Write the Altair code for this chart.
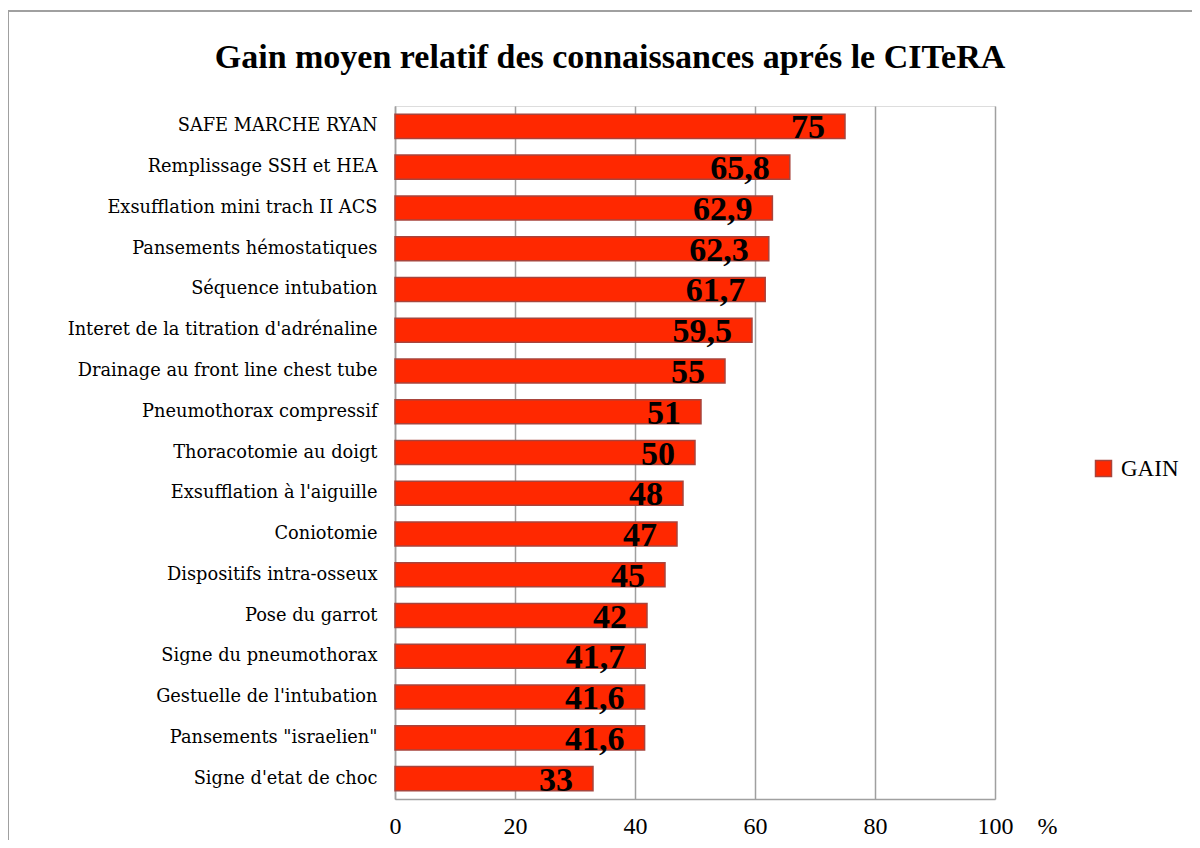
import altair as alt
import pandas as pd

categories = [
    "SAFE MARCHE RYAN",
    "Remplissage SSH et HEA ",
    "Exsufflation mini trach II ACS",
    "Pansements hémostatiques",
    "Séquence intubation ",
    "Interet de la titration d'adrénaline ",
    "Drainage au front line chest tube ",
    "Pneumothorax compressif",
    "Thoracotomie au doigt",
    "Exsufflation à l'aiguille",
    "Coniotomie",
    "Dispositifs intra-osseux",
    "Pose du garrot",
    "Signe du pneumothorax",
    "Gestuelle de l'intubation",
    "Pansements \"israelien\"",
    "Signe d'etat de choc",
]
gain = [75, 65.8, 62.9, 62.3, 61.7, 59.5, 55, 51, 50, 48, 47, 45, 42, 41.7, 41.6, 41.6, 33]
series = "GAIN"
x_ticks = [0, 20, 40, 60, 80, 100]

df = pd.DataFrame({
    "cat": categories,
    "gain": gain,
    "label": [("%g" % v).replace(".", ",") for v in gain],
    "series": [series] * len(categories),
    "idx": list(range(len(categories))),
})

SERIF = "Liberation Serif"
CATFONT = "DejaVu Serif"
W, H = 600, 693
PL, PT = 387, 98

y_enc = alt.Y("idx:O", sort=None,
              scale=alt.Scale(paddingInner=0.41),
              axis=alt.Axis(title=None, ticks=False, labelPadding=18, labelLimit=0,
                            labelFont=CATFONT, labelFontSize=17.8, labelColor="#000",
                            labelExpr="%s[datum.value]" % str(categories),
                            domainColor="#A0A0A0", domainWidth=1.5))

bars = alt.Chart(df).mark_bar(stroke="#A8443C", strokeWidth=1.5).encode(
    x=alt.X("gain:Q", scale=alt.Scale(domain=[0, 100], nice=False),
            axis=alt.Axis(values=x_ticks, title="%", ticks=False, labelFlush=False,
                          labelFont=SERIF, labelFontSize=24, labelColor="#000",
                          labelPadding=27, labelBaseline="middle",
                          grid=True, gridColor="#A0A0A0", gridWidth=1.5,
                          domainColor="#A0A0A0", domainWidth=1.5,
                          titleFont=SERIF, titleFontSize=24, titleFontWeight="normal",
                          titleColor="#000", titleX=652, titleY=27,
                          titleBaseline="middle", titleAlign="center", titleAngle=0)),
    y=y_enc,
    color=alt.Color("series:N", scale=alt.Scale(range=["#FF2800"]),
                    legend=alt.Legend(title=None, orient="none", legendX=697, legendY=351,
                                      symbolType="square", symbolSize=256,
                                      symbolStrokeColor="#A8443C", symbolStrokeWidth=1.5,
                                      symbolOpacity=1,
                                      labelFont=SERIF, labelFontSize=23, labelColor="#000",
                                      labelOffset=6, padding=0)),
)

labels = alt.Chart(df).mark_text(
    align="right", baseline="alphabetic", dx=-20, dy=12,
    font=SERIF, fontSize=34, fontWeight="bold", color="#000"
).encode(
    x=alt.X("gain:Q"),
    y=alt.Y("idx:O", sort=None),
    text="label:N",
)

frame = alt.Chart(pd.DataFrame({"k": [0]})).mark_rect(
    fill=None, stroke="#A0A0A0", strokeWidth=2
).encode(
    x=alt.value(8 - 8 - PL),
    x2=alt.value(1400),
    y=alt.value(11 - 8 - PT),
    y2=alt.value(1000),
)

chart = alt.layer(frame, bars, labels).properties(
    width=W, height=H,
    title=alt.Title("Gain moyen relatif des connaissances aprés le CITeRA",
                    font=SERIF, fontSize=34, fontWeight="bold", color="#000",
                    anchor="middle", frame="group", dx=-85,
                    baseline="alphabetic", offset=-92),
    autosize=alt.AutoSizeParams(type="none"),
    padding={"left": PL, "top": PT, "right": 1200 - 16 - PL - W, "bottom": 848 - 16 - PT - H},
).configure_view(
    fill="#F4ECEA", stroke=None
).configure_legend(
    labelFont=SERIF
).configure(background="white")

chart.save("out.html", embed_options={"renderer": "svg", "actions": False})
